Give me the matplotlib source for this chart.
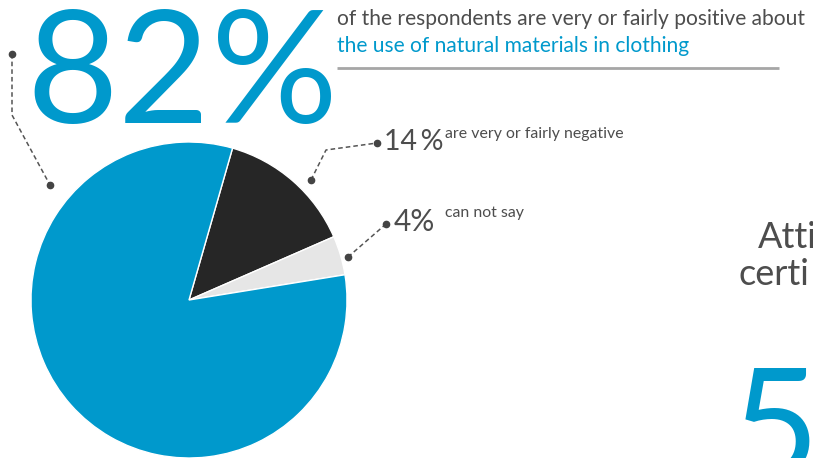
import matplotlib
matplotlib.use("Agg")
import matplotlib.pyplot as plt

# ---- data ----
shares = [14, 4, 82]
share_labels = ["very or fairly negative", "can not say", "very or fairly positive"]
colors = ["#262626", "#e6e6e6", "#0099cc"]
headline_num = "82"
headline_pct = "%"
headline_text_1 = "of the respondents are very or fairly positive about"
headline_text_2 = "the use of natural materials in clothing"
neg_value = "14\u2009%"
neg_text = "are very or fairly negative"
cns_value = "4%"
cns_text = "can not say"
side_title_1 = "Atti"
side_title_2 = "certi"
side_number = "5"

W, H = 813, 458
BLUE = "#0099cc"
GREY_TXT = "#4d4d4d"
FONT = ["Lato", "DejaVu Sans"]

fig = plt.figure(figsize=(W / 100, H / 100), dpi=100)
ax = fig.add_axes([0, 0, 1, 1])

def Y(y):
    return H - y

ax.pie(shares, colors=colors, startangle=74, counterclock=False,
       center=(189, Y(300)), radius=158, frame=True,
       wedgeprops=dict(edgecolor="white", linewidth=1.0))
ax.set_xlim(0, W)
ax.set_ylim(0, H)
ax.set_aspect("equal")
ax.axis("off")

# headline
ax.text(26, Y(123), headline_num, fontsize=114, color=BLUE, family=FONT,
        ha="left", va="baseline")
ax.text(338, Y(123), headline_pct, fontsize=114, color=BLUE, family=FONT,
        ha="right", va="baseline")
ax.text(337, Y(25), headline_text_1, fontsize=15.1, color=GREY_TXT, family=FONT,
        ha="left", va="baseline")
ax.text(337, Y(52), headline_text_2, fontsize=15.1, color=BLUE, family=FONT,
        ha="left", va="baseline")
ax.plot([337, 779], [Y(68), Y(68)], color="#a6a6a6", lw=2, solid_capstyle="butt")

# leader lines
lead_kw = dict(color="#555555", lw=1.1, linestyle=(0, (3, 2)))
dot_kw = dict(color="#444444", marker="o", markersize=4.5, linestyle="none")
ax.plot([12, 12, 50], [Y(54), Y(115), Y(185)], **lead_kw)
ax.plot([12, 50], [Y(54), Y(185)], **dot_kw)
ax.plot([311, 326, 377], [Y(180), Y(150), Y(143)], **lead_kw)
ax.plot([311, 377], [Y(180), Y(143)], **dot_kw)
ax.plot([348, 386], [Y(257), Y(224)], **lead_kw)
ax.plot([348, 386], [Y(257), Y(224)], **dot_kw)

# slice labels
ax.text(384, Y(150), neg_value, fontsize=20.5, color=GREY_TXT, family=FONT,
        ha="left", va="baseline")
ax.text(445, Y(138), neg_text, fontsize=11.4, color=GREY_TXT, family=FONT,
        ha="left", va="baseline")
ax.text(394, Y(231), cns_value, fontsize=21.5, color=GREY_TXT, family=FONT,
        ha="left", va="baseline")
ax.text(445, Y(217), cns_text, fontsize=11.4, color=GREY_TXT, family=FONT,
        ha="left", va="baseline")

# cut-off content on the right
ax.text(758, Y(248), side_title_1, fontsize=26, color=GREY_TXT, family=FONT,
        ha="left", va="baseline", clip_on=True)
ax.text(738, Y(285), side_title_2, fontsize=26, color=GREY_TXT, family=FONT,
        ha="left", va="baseline", clip_on=True)
ax.text(730, Y(478), side_number, fontsize=110, color=BLUE, family=FONT,
        ha="left", va="baseline", clip_on=True)

fig.savefig("out.png", dpi=100)
